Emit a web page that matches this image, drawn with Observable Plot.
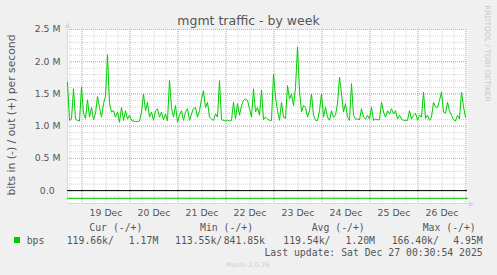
<!DOCTYPE html>
<html><head><meta charset="utf-8">
<script src="https://cdn.jsdelivr.net/npm/d3@7"></script>
<script src="https://cdn.jsdelivr.net/npm/@observablehq/plot@0.6"></script>
<style>
html,body{margin:0;padding:0;background:#f0f0f0;}
#chart{position:relative;width:497px;height:275px;background:#f0f0f0;overflow:hidden;}
#chart svg{position:absolute;left:0;top:0;}
</style></head><body><div id="chart"></div>
<script>
const title = "mgmt traffic - by week";
const yLabel = "bits in (-) / out (+) per second";
const watermark = "RRDTOOL / TOBI OETIKER";
const footer = "Munin 2.0.76";
const lastUpdate = "Last update: Sat Dec 27 00:30:54 2025";
const seriesName = "bps";
const legendHeaders = ["Cur (-/+)", "Min (-/+)", "Avg (-/+)", "Max (-/+)"];
const legendIn = ["119.66k/", "113.55k/", "119.54k/", "166.40k/"];
const legendOut = ["1.17M", "841.85k", "1.20M", "4.95M"];

const startTime = Date.UTC(2025, 11, 18, 16, 45);
const endTime = Date.UTC(2025, 11, 27, 0, 45);
const outStepHours = 1;
// out (+) traffic, Mbit/s, hourly
const outValues = [
1.68,1.09,1.11,1.58,1.11,1.09,1.08,1.61,1.20,1.12,
1.41,1.14,1.29,1.10,1.20,1.46,1.29,1.14,1.35,1.46,
2.11,1.35,1.22,1.24,1.14,1.22,1.06,1.29,1.09,1.24,
1.11,1.17,1.09,1.08,1.07,1.07,1.08,1.22,1.50,1.24,
1.37,1.14,1.22,1.09,1.24,1.27,1.14,1.22,1.10,1.19,
1.08,1.71,1.29,1.14,1.32,1.06,1.17,1.24,1.09,1.22,
1.27,1.09,1.19,1.27,1.29,1.14,1.24,1.42,1.55,1.29,
1.37,1.14,1.11,1.09,1.19,1.14,1.71,1.10,1.09,1.08,
1.09,1.08,1.09,1.37,1.11,1.35,1.17,1.32,1.40,1.42,
1.40,1.27,1.14,1.58,1.22,1.29,1.17,1.56,1.10,1.14,
1.11,1.09,1.09,1.81,1.45,1.24,1.09,1.37,1.14,1.12,
1.63,1.42,1.50,1.32,1.60,2.23,1.55,1.22,1.32,1.29,
1.14,1.24,1.50,1.17,1.09,1.09,1.24,1.50,1.14,1.29,
1.14,1.09,1.24,1.14,1.17,1.35,1.76,1.50,1.22,1.35,
1.14,1.09,1.66,1.17,1.11,1.11,1.10,1.27,1.14,1.11,
1.17,1.11,1.29,1.09,1.11,1.10,1.10,1.37,1.22,1.14,
1.24,1.19,1.27,1.19,1.24,1.11,1.17,1.11,1.09,1.09,
1.09,1.24,1.11,1.17,1.20,1.09,1.17,1.14,1.53,1.12,
1.17,1.09,1.14,1.37,1.30,1.29,1.40,1.53,1.22,1.20,
1.37,1.24,1.17,1.10,1.08,1.17,1.11,1.53,1.30,1.14
];
const inStepHours = 25;
// in (-) traffic, Mbit/s
const inValues = [0.120,0.120,0.119,0.120,0.120,0.119,0.120,0.120,0.120];

const yTicks = [0, 0.5, 1, 1.5, 2, 2.5];
const yTickLabels = ["0.0\u00a0\u00a0", "0.5 M", "1.0 M", "1.5 M", "2.0 M", "2.5 M"];
const dayLabels = ["19 Dec","20 Dec","21 Dec","22 Dec","23 Dec","24 Dec","25 Dec","26 Dec"];
const dayTicks = dayLabels.map((_, i) => new Date(Date.UTC(2025, 11, 19 + i, 12)));

const H = 3600e3;
const outData = outValues.map((v, i) => ({t: new Date(startTime + i * outStepHours * H), v}));
const inData = inValues.map((v, i) => ({t: new Date(startTime + i * inStepHours * H), v: -v}));
const x0 = new Date(startTime), x1 = new Date(endTime);
const yMin = -0.2, yMax = 2.5;
const minorY = d3.range(-2, 26).map(i => i / 10);
const minorX = d3.utcHour.every(6).range(x0, x1);
const majorX = d3.utcDay.range(x0, x1);

const AXIS = "#CFD6F8";
const GRID = "#d4d4d4";
const MGRID = "#f0a0a0";

const plot = Plot.plot({
  width: 497, height: 275,
  marginLeft: 67, marginRight: 30, marginTop: 29, marginBottom: 72,
  style: {background: "transparent", fontFamily: "DejaVu Sans", fontSize: "9.3px", color: "#555"},
  x: {type: "utc", domain: [x0, x1], ticks: dayTicks,
      tickFormat: d => dayLabels[dayTicks.findIndex(t => +t === +d)], tickSize: 0, tickPadding: 6, label: null},
  y: {domain: [yMin, yMax], ticks: yTicks,
      tickFormat: d => yTickLabels[yTicks.indexOf(d)], tickSize: 0, tickPadding: 7, label: null},
  marks: [
    Plot.frame({fill: "white", stroke: "none"}),
    Plot.ruleY(minorY, {stroke: GRID, strokeDasharray: "1,1"}),
    Plot.ruleX(minorX, {stroke: GRID, strokeDasharray: "1,1", insetBottom: -2}),
    Plot.ruleY(yTicks, {stroke: MGRID, strokeDasharray: "1,1"}),
    Plot.ruleX(majorX, {stroke: MGRID, strokeDasharray: "1,1", insetBottom: -2}),
    Plot.ruleX([x0], {y1: yMin, y2: yMax, stroke: AXIS, insetTop: -3}),
    Plot.ruleY([yMin], {x1: x0, x2: x1, stroke: AXIS, insetRight: -3}),
    Plot.text([{t: x0, v: yMax}], {x: "t", y: "v", text: () => "\u25B2", dy: -5, fill: AXIS, fontSize: 7}),
    Plot.text([{t: x1, v: yMin}], {x: "t", y: "v", text: () => "\u25B6", dx: 4, fill: AXIS, fontSize: 7}),
    Plot.ruleY([0], {stroke: "black"}),
    Plot.line(inData, {x: "t", y: "v", stroke: "#00cc00", strokeWidth: 1}),
    Plot.line(outData, {x: "t", y: "v", stroke: "#00cc00", strokeWidth: 1})
  ]
});
document.getElementById("chart").appendChild(plot);

const svg = d3.select("#chart").append("svg").attr("width", 497).attr("height", 275)
  .style("pointer-events", "none").attr("font-family", "DejaVu Sans");
svg.append("text").attr("x", 248.5).attr("y", 25).attr("text-anchor", "middle")
  .attr("font-size", 12.5).attr("fill", "#555").text(title);
svg.append("text").attr("transform", "translate(15,115) rotate(-90)").attr("text-anchor", "middle")
  .attr("font-size", 10.8).attr("fill", "#555").text(yLabel);
svg.append("text").attr("transform", "translate(484.5,53.5) rotate(90)").attr("text-anchor", "middle")
  .attr("font-size", 7.5).attr("fill", "#c8c8c8").text(watermark);
svg.append("text").attr("x", 247.7).attr("y", 266.5).attr("text-anchor", "middle")
  .attr("font-size", 6.7).attr("fill", "#cccccc").text(footer);

const mono = svg.append("g").attr("font-family", "DejaVu Sans Mono").attr("font-size", 9.8).attr("fill", "#555");
const headerX = [89.3, 200, 311.7, 422.7];
const inX = [66.7, 175, 283.3, 391.7];
const outX = [158.3, 265, 375, 482.7];
legendHeaders.forEach((h, i) => mono.append("text").attr("x", headerX[i]).attr("y", 230.8).text(h));
legendIn.forEach((s, i) => mono.append("text").attr("x", inX[i]).attr("y", 243.5).text(s));
legendOut.forEach((s, i) => mono.append("text").attr("x", outX[i]).attr("y", 243.5).attr("text-anchor", "end").text(s));
mono.append("text").attr("x", 26.7).attr("y", 243.5).text(seriesName);
mono.append("text").attr("x", 482.7).attr("y", 256).attr("text-anchor", "end").text(lastUpdate);
svg.append("rect").attr("x", 14).attr("y", 237).attr("width", 6).attr("height", 6).attr("fill", "#00cc00");
</script></body></html>
